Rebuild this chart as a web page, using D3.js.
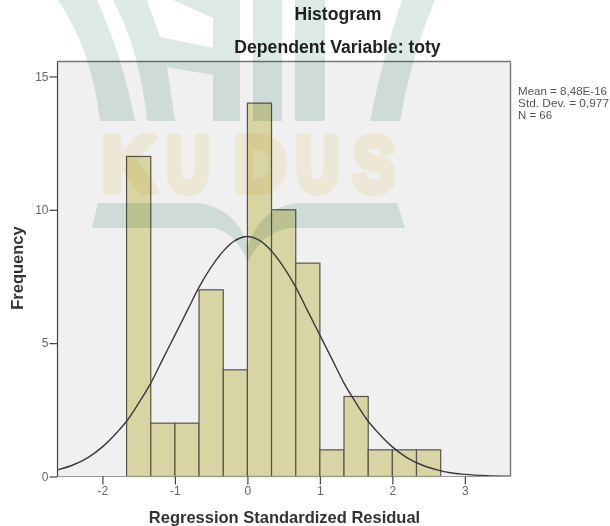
<!DOCTYPE html>
<html>
<head>
<meta charset="utf-8">
<style>
  html, body { margin: 0; padding: 0; background: #fff; }
  svg { display: block; font-family: "Liberation Sans", Arial, sans-serif; }
  .tickAxis text { font-size: 12px; fill: #666; }
  .tickAxis line { stroke: #444; stroke-width: 1.2; }
  .tickAxis path { display: none; }
  .title { font-weight: bold; font-size: 17.6px; fill: #222; text-anchor: middle; }
  .axisTitle { font-weight: bold; font-size: 16.5px; fill: #333; text-anchor: middle; }
  .stats { font-size: 10.4px; fill: #555; }
</style>
</head>
<body>
<svg width="610" height="526"></svg>
<script src="https://cdn.jsdelivr.net/npm/d3@7"></script>
<script>
var binEdges = [-1.667, -1.333, -1, -0.667, -0.333, 0, 0.333, 0.667, 1, 1.333, 1.667, 2, 2.333, 2.667];
var binCounts = [12, 2, 2, 7, 4, 14, 10, 8, 1, 3, 1, 1, 1];

// normal curve
var curveX = [-2.62, -2.4, -2.2, -2, -1.8, -1.667, -1.5, -1.333, -1.167, -1, -0.833, -0.667, -0.5, -0.333, -0.167, 0,
  0.167, 0.333, 0.5, 0.667, 0.833, 1, 1.167, 1.333, 1.5, 1.667, 1.8, 2, 2.2, 2.4, 2.62, 2.8, 3, 3.3, 3.62];
var curveY = [0.25, 0.44, 0.71, 1.11, 1.65, 2.07, 2.75, 3.5, 4.4, 5.3, 6.2, 7.1, 7.85, 8.45, 8.85, 9.0,
  8.85, 8.45, 7.85, 7.1, 6.2, 5.3, 4.4, 3.5, 2.75, 2.07, 1.65, 1.11, 0.71, 0.44, 0.25, 0.14, 0.08, 0.03, 0.01];

var yTicks = [0, 5, 10, 15];
var xTicks = [-2, -1, 0, 1, 2, 3];
var statLines = ['Mean = 8,48E-16', 'Std. Dev. = 0,977', 'N = 66'];
var statWidths = [89, 91, 34];

var plot = { left: 57.5, right: 510.5, top: 61.5, bottom: 476.5 };

var svg = d3.select('svg');

var xScale = d3.scaleLinear()
  .domain([-2.62, 3.63])
  .range([plot.left, plot.right]);

var yScale = d3.scaleLinear()
  .domain([0, 15.56])
  .range([plot.bottom, plot.top]);

svg.append('rect')
  .attr('x', plot.left)
  .attr('y', plot.top)
  .attr('width', plot.right - plot.left)
  .attr('height', plot.bottom - plot.top)
  .attr('fill', '#f0f0f0');

svg.append('g')
  .selectAll('rect')
  .data(binCounts)
  .enter()
  .append('rect')
  .attr('x', (d, i) => xScale(binEdges[i]))
  .attr('y', (d) => yScale(d))
  .attr('width', (d, i) => xScale(binEdges[i + 1]) - xScale(binEdges[i]))
  .attr('height', (d) => yScale(0) - yScale(d))
  .attr('fill', '#d9d4a3')
  .attr('stroke', '#55554b')
  .attr('stroke-width', 1.2);

var line = d3.line()
  .x((d, i) => xScale(curveX[i]))
  .y((d) => yScale(d))
  .curve(d3.curveMonotoneX);

svg.append('path')
  .attr('d', line(curveY))
  .attr('fill', 'none')
  .attr('stroke', '#3a3a3a')
  .attr('stroke-width', 1.4);

// frame
svg.append('path')
  .attr('d', 'M' + plot.right + ',' + plot.top + 'V' + plot.bottom + 'M' + plot.left + ',' + plot.top + 'H' + plot.right)
  .attr('fill', 'none')
  .attr('stroke', '#777')
  .attr('stroke-width', 1.4);

svg.append('path')
  .attr('d', 'M' + plot.left + ',' + plot.top + 'V' + plot.bottom)
  .attr('stroke', '#444')
  .attr('stroke-width', 1.2);

svg.append('path')
  .attr('d', 'M' + plot.left + ',' + plot.bottom + 'H' + plot.right)
  .attr('stroke', '#999')
  .attr('stroke-width', 1);

svg.append('g')
  .attr('class', 'tickAxis')
  .attr('transform', 'translate(' + plot.left + ',0)')
  .call(d3.axisLeft(yScale).tickValues(yTicks).tickSize(8).tickPadding(1).tickFormat(d3.format('d')));

svg.append('g')
  .attr('class', 'tickAxis')
  .attr('transform', 'translate(0,' + plot.bottom + ')')
  .call(d3.axisBottom(xScale).tickValues(xTicks).tickSize(8).tickPadding(2).tickFormat((d) => String(d)));

svg.append('text').attr('class', 'title').attr('x', 338).attr('y', 20).text('Histogram');
svg.append('text').attr('class', 'title').attr('x', 337.5).attr('y', 53).text('Dependent Variable: toty');

svg.append('text')
  .attr('class', 'axisTitle')
  .attr('x', 284.5)
  .attr('y', 523)
  .text('Regression Standardized Residual');

svg.append('text')
  .attr('class', 'axisTitle')
  .attr('transform', 'translate(23,268) rotate(-90)')
  .text('Frequency');

svg.append('g')
  .selectAll('text')
  .data(statLines)
  .enter()
  .append('text')
  .attr('class', 'stats')
  .attr('x', 518)
  .attr('y', (d, i) => 95 + i * 12.2)
  .attr('textLength', (d, i) => statWidths[i])
  .attr('lengthAdjust', 'spacingAndGlyphs')
  .text((d) => d);

// watermark sitting over the whole chart
var mark = svg.append('g').style('mix-blend-mode', 'multiply');

var greenShapes = [
  'M58,0 L97,0 Q122,55 135,121 L100,121 Q92,50 58,0 Z',
  'M113,0 L147,0 L160,37 L213,48 L213,18 L173,0 L240,0 L240,121 L213,121 L213,75 L167,67 L175,121 L147,121 Q140,50 113,0 Z',
  'M253,0 H282 V121 H253 Z',
  'M295,0 H325 V121 H295 Z',
  'M402,0 L435,0 Q410,60 400,121 L370,121 Q382,60 402,0 Z',
  'M98,203 L197,203 Q235,207 248,245 L248,262 Q235,232 213,228 L92,228 Z',
  'M405,228 L397,203 L297,203 Q262,207 248,245 L248,262 Q262,232 290,228 Z'
];

mark.selectAll('path')
  .data(greenShapes)
  .enter()
  .append('path')
  .attr('d', (d) => d)
  .attr('fill', '#dce9e4');

var markLetters = ['K', 'U', 'D', 'U', 'S'];
var markLeft = [102, 166, 234, 296, 353];
var markWidth = [54, 44, 52, 43, 42];

mark.selectAll('text')
  .data(markLetters)
  .enter()
  .append('text')
  .attr('x', (d, i) => markLeft[i])
  .attr('y', 191)
  .attr('textLength', (d, i) => markWidth[i])
  .attr('lengthAdjust', 'spacingAndGlyphs')
  .attr('font-size', 77)
  .attr('font-weight', 'bold')
  .attr('fill', '#fcf6e4')
  .attr('stroke', '#fcf6e4')
  .attr('stroke-width', 8)
  .attr('stroke-linejoin', 'round')
  .text((d) => d);
</script>
</body>
</html>
